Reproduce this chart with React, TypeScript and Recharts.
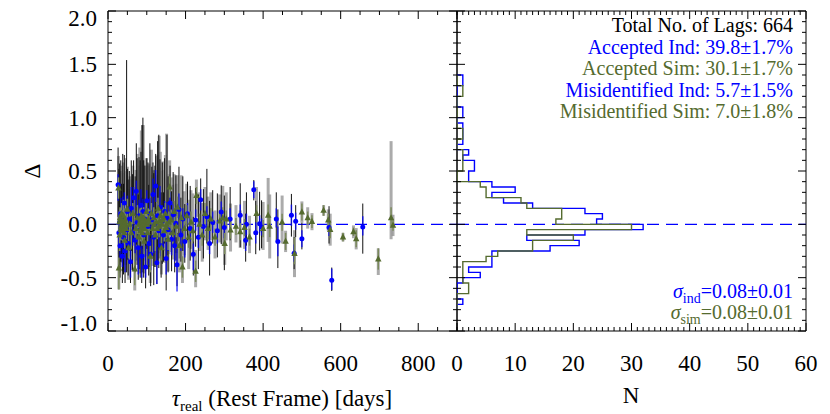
import React from 'react'
import { ScatterChart, Scatter, XAxis, YAxis, ErrorBar, ReferenceLine } from 'recharts'

const BLUE = '#0000ff'
const OLIVE = '#556b2f'
const FONT = '"Liberation Serif", "Times New Roman", serif'

// plot box in page pixels
const TOP = 11
const BOTTOM = 331
const LEFT = 108
const MID = 457
const RIGHT = 806

const tauLabels = [0, 200, 400, 600, 800]
const nLabels = [0, 10, 20, 30, 40, 50, 60]
const deltaLabels = [-1.0, -0.5, 0.0, 0.5, 1.0, 1.5, 2.0]
const tauMinor = Array.from({ length: 19 }, (_, i) => i * 50)
const nMinor = Array.from({ length: 61 }, (_, i) => i)
const deltaMinor = Array.from({ length: 31 }, (_, i) => Math.round((-1 + i * 0.1) * 10) / 10)

// [tau, delta, colour err low, colour err high, wide err low, wide err high]
const indPoints = [
  [26, 0.37, 0.15, 0.1, 0.3, 0.35], [28, -0.08, 0.15, 0.2, 0.35, 0.6], [30, 0.02, 0.1, 0.12, 0.4, 0.55],
  [31, -0.2, 0.12, 0.25, 0.3, 0.45], [33, 0.1, 0.2, 0.15, 0.45, 0.5], [35, -0.02, 0.08, 0.1, 0.3, 0.4],
  [37, -0.3, 0.1, 0.2, 0.25, 0.45], [38, 0.06, 0.25, 0.2, 0.5, 0.6], [40, -0.12, 0.1, 0.15, 0.35, 0.5],
  [42, 0.2, 0.15, 0.1, 0.4, 0.45], [44, -0.25, 0.2, 0.1, 0.3, 0.4], [48, -0.05, 0.1, 0.15, 0.4, 1.59],
  [50, 0.12, 0.2, 0.15, 0.45, 0.4], [52, -0.18, 0.15, 0.2, 0.3, 0.6], [55, 0.05, 0.1, 0.1, 0.3, 0.45],
  [58, -0.35, 0.15, 0.25, 0.2, 0.5], [60, 0.15, 0.2, 0.2, 0.4, 0.45], [63, -0.08, 0.12, 0.12, 0.35, 0.55],
  [66, 0.25, 0.15, 0.1, 0.4, 0.35], [70, -0.15, 0.2, 0.15, 0.3, 0.6], [73, 0.31, 0.15, 0.1, 0.5, 0.45],
  [75, 0.02, 0.1, 0.1, 0.4, 0.6], [78, -0.22, 0.25, 0.2, 0.3, 0.5], [80, 0.08, 0.15, 0.15, 0.5, 0.55],
  [83, -0.05, 0.1, 0.1, 0.45, 0.65], [85, 0.18, 0.1, 0.15, 0.4, 0.5], [87, -0.3, 0.2, 0.15, 0.25, 0.55],
  [88, 0.0, 0.15, 0.2, 0.45, 0.93], [90, 0.12, 0.1, 0.12, 0.35, 0.88], [92, -0.1, 0.2, 0.25, 0.4, 0.7],
  [95, 0.05, 0.15, 0.15, 0.3, 0.5], [97, -0.4, 0.1, 0.2, 0.2, 0.45], [100, 0.22, 0.15, 0.1, 0.45, 0.4],
  [103, -0.02, 0.1, 0.1, 0.4, 0.6], [105, -0.18, 0.2, 0.2, 0.3, 0.55], [108, 0.1, 0.15, 0.15, 0.5, 0.66],
  [110, -0.28, 0.15, 0.15, 0.3, 0.4], [113, 0.04, 0.1, 0.1, 0.35, 0.5], [116, 0.28, 0.2, 0.15, 0.4, 0.3],
  [118, -0.12, 0.15, 0.2, 0.45, 0.6], [121, 0.0, 0.12, 0.1, 0.4, 0.55], [123, 0.36, 0.15, 0.15, 0.4, 0.3],
  [126, -0.36, 0.2, 0.15, 0.2, 0.5], [128, 0.08, 0.1, 0.12, 0.45, 0.7], [131, -0.06, 0.15, 0.1, 0.35, 0.9],
  [134, 0.16, 0.2, 0.2, 0.4, 0.45], [137, -0.2, 0.1, 0.15, 0.3, 0.5], [140, 0.03, 0.15, 0.15, 0.4, 0.55],
  [143, -0.1, 0.12, 0.12, 0.25, 0.4], [146, 0.12, 0.1, 0.1, 0.3, 0.5], [150, -0.32, 0.15, 0.2, 0.3, 0.4],
  [152, 0.06, 0.12, 0.15, 0.35, 0.78], [155, -0.05, 0.2, 0.15, 0.4, 0.5], [160, 0.2, 0.1, 0.1, 0.3, 0.35],
  [164, -0.14, 0.15, 0.2, 0.3, 0.45], [168, 0.09, 0.1, 0.1, 0.3, 0.4], [172, -0.2, 0.15, 0.1, 0.25, 0.35],
  [175, 0.01, 0.1, 0.15, 0.35, 0.45], [178, -0.38, 0.25, 0.15, 0.2, 0.3], [183, 0.14, 0.1, 0.15, 0.3, 0.4],
  [188, -0.1, 0.15, 0.1, 0.25, 0.35], [193, 0.05, 0.1, 0.1, 0.3, 0.4], [198, -0.16, 0.15, 0.15, 0.2, 0.35],
  [205, 0.1, 0.1, 0.1, 0.25, 0.3], [212, -0.04, 0.12, 0.12, 0.3, 0.4], [220, -0.28, 0.15, 0.1, 0.2, 0.35],
  [226, 0.04, 0.1, 0.1, 0.25, 0.3], [233, -0.12, 0.1, 0.15, 0.3, 0.4], [239, 0.23, 0.1, 0.1, 0.25, 0.2],
  [246, -0.02, 0.1, 0.1, 0.3, 0.35], [255, 0.07, 0.12, 0.1, 0.25, 0.45], [262, -0.18, 0.1, 0.12, 0.3, 0.4],
  [270, 0.02, 0.1, 0.1, 0.2, 0.3], [282, -0.06, 0.12, 0.1, 0.25, 0.35], [292, 0.115, 0.1, 0.1, 0.3, 0.25],
  [300, -0.03, 0.1, 0.1, 0.4, 0.3], [315, 0.05, 0.08, 0.1, 0.2, 0.3], [341, 0.085, 0.1, 0.1, 0.3, 0.3],
  [355, -0.15, 0.1, 0.1, 0.2, 0.25], [357, 0.0, 0.1, 0.1, 0.2, 0.3], [376, 0.325, 0.08, 0.08, 0.1, 0.09],
  [381, -0.08, 0.1, 0.1, 0.2, 0.3], [391, 0.005, 0.08, 0.08, 0.25, 0.3], [396, -0.025, 0.08, 0.08, 0.2, 0.25],
  [434, 0.05, 0.08, 0.1, 0.2, 0.25], [438, -0.16, 0.14, 0.14, 0.25, 0.3], [473, 0.085, 0.1, 0.1, 0.2, 0.2],
  [480, -0.27, 0.08, 0.08, 0.15, 0.15], [484, 0.03, 0.08, 0.08, 0.15, 0.15], [500, -0.135, 0.08, 0.08, 0.1, 0.15],
  [570, -0.03, 0.08, 0.08, 0.15, 0.2], [577, -0.525, 0.09, 0.11, 0.1, 0.12], [657, -0.025, 0.08, 0.1, 0.25, 0.22],
]

const simPoints = [
  [27, 0.34, 0.1, 0.1, 0.3, 0.3], [28, -0.41, 0.2, 0.1, 0.2, 0.3], [29, 0.02, 0.1, 0.1, 0.3, 0.45],
  [30, -0.1, 0.15, 0.15, 0.35, 0.5], [31, 0.06, 0.1, 0.1, 0.3, 0.4], [32, 0.05, 0.12, 0.1, 0.4, 0.45],
  [33, -0.05, 0.1, 0.1, 0.3, 0.5], [34, -0.02, 0.1, 0.1, 0.3, 0.5], [35, 0.1, 0.1, 0.1, 0.35, 0.4],
  [36, 0.0, 0.15, 0.12, 0.35, 0.55], [37, 0.03, 0.1, 0.1, 0.3, 0.45], [38, -0.06, 0.1, 0.1, 0.3, 0.4],
  [39, -0.02, 0.12, 0.1, 0.3, 0.5], [40, 0.08, 0.15, 0.15, 0.4, 0.5], [41, 0.0, 0.1, 0.1, 0.35, 0.45],
  [42, -0.08, 0.1, 0.1, 0.3, 0.5], [43, -0.15, 0.1, 0.12, 0.3, 0.4], [44, 0.05, 0.1, 0.1, 0.3, 0.45],
  [45, 0.02, 0.1, 0.1, 0.4, 0.6], [46, -0.01, 0.1, 0.1, 0.3, 0.5], [47, -0.04, 0.1, 0.1, 0.3, 0.5],
  [50, 0.14, 0.15, 0.1, 0.35, 0.4], [53, -0.22, 0.1, 0.15, 0.3, 0.55], [56, 0.0, 0.1, 0.12, 0.3, 0.45],
  [60, -0.08, 0.15, 0.1, 0.35, 0.5], [64, 0.1, 0.1, 0.1, 0.3, 0.45], [69, -0.42, 0.15, 0.15, 0.2, 0.3],
  [72, -0.04, 0.1, 0.1, 0.3, 0.55], [76, 0.06, 0.15, 0.12, 0.35, 0.6], [79, -0.12, 0.1, 0.1, 0.3, 0.45],
  [81, 0.0, 0.1, 0.1, 0.35, 0.55], [82, 0.02, 0.12, 0.12, 0.35, 0.7], [83, 0.05, 0.1, 0.1, 0.3, 0.5],
  [84, -0.06, 0.1, 0.1, 0.4, 0.6], [85, -0.03, 0.1, 0.1, 0.3, 0.5], [86, 0.08, 0.1, 0.1, 0.3, 0.8],
  [87, 0.02, 0.1, 0.1, 0.35, 0.55], [88, -0.08, 0.12, 0.1, 0.3, 0.5], [89, -0.02, 0.15, 0.15, 0.4, 0.95],
  [90, 0.0, 0.1, 0.1, 0.3, 0.6], [91, 0.04, 0.1, 0.1, 0.35, 0.89], [92, 0.06, 0.1, 0.1, 0.3, 0.5],
  [93, -0.16, 0.12, 0.12, 0.3, 0.6], [94, -0.04, 0.1, 0.1, 0.3, 0.5], [96, 0.0, 0.1, 0.1, 0.3, 0.55],
  [97, 0.03, 0.1, 0.1, 0.3, 0.5], [99, 0.12, 0.15, 0.1, 0.35, 0.5], [101, 0.0, 0.1, 0.1, 0.3, 0.55],
  [102, -0.08, 0.1, 0.1, 0.3, 0.6], [104, 0.05, 0.1, 0.1, 0.3, 0.5], [106, 0.02, 0.12, 0.12, 0.4, 0.55],
  [109, -0.3, 0.15, 0.1, 0.25, 0.4], [112, 0.1, 0.1, 0.1, 0.3, 0.6], [115, -0.04, 0.1, 0.12, 0.35, 0.5],
  [118, 0.06, 0.1, 0.1, 0.3, 0.45], [119, 0.0, 0.1, 0.1, 0.3, 0.5], [122, -0.1, 0.15, 0.15, 0.3, 0.55],
  [125, 0.02, 0.1, 0.1, 0.4, 0.62], [127, -0.04, 0.1, 0.1, 0.3, 0.5], [129, 0.15, 0.12, 0.1, 0.35, 0.5],
  [132, -0.02, 0.1, 0.1, 0.3, 0.85], [133, 0.03, 0.1, 0.1, 0.3, 0.5], [135, 0.08, 0.1, 0.1, 0.3, 0.6],
  [138, -0.22, 0.12, 0.12, 0.25, 0.45], [139, 0.0, 0.1, 0.1, 0.3, 0.5], [141, 0.04, 0.1, 0.1, 0.3, 0.55],
  [143, 0.06, 0.1, 0.1, 0.3, 0.45], [145, -0.06, 0.1, 0.1, 0.3, 0.5], [148, 0.1, 0.12, 0.1, 0.35, 0.55],
  [150, -0.03, 0.1, 0.1, 0.3, 0.45], [151, 0.0, 0.1, 0.1, 0.3, 0.85], [155, -0.14, 0.1, 0.12, 0.3, 0.45],
  [157, 0.02, 0.1, 0.1, 0.3, 0.45], [159, 0.35, 0.1, 0.1, 0.3, 0.25], [163, 0.04, 0.1, 0.1, 0.3, 0.4],
  [167, -0.08, 0.1, 0.1, 0.25, 0.45], [171, 0.12, 0.1, 0.1, 0.3, 0.35], [176, -0.02, 0.1, 0.1, 0.25, 0.4],
  [179, 0.16, 0.1, 0.1, 0.25, 0.3], [184, -0.2, 0.12, 0.1, 0.25, 0.35], [189, 0.06, 0.1, 0.1, 0.3, 0.4],
  [192, -0.4, 0.1, 0.1, 0.15, 0.25], [197, -0.04, 0.1, 0.1, 0.25, 0.35], [203, 0.08, 0.1, 0.1, 0.25, 0.3],
  [208, -0.12, 0.1, 0.1, 0.3, 0.35], [214, 0.02, 0.1, 0.1, 0.25, 0.3], [219, -0.06, 0.1, 0.1, 0.25, 0.35],
  [226, -0.44, 0.1, 0.1, 0.15, 0.2], [228, 0.27, 0.08, 0.08, 0.2, 0.15], [236, 0.0, 0.1, 0.1, 0.25, 0.3],
  [243, -0.1, 0.1, 0.1, 0.25, 0.3], [250, 0.1, 0.1, 0.1, 0.25, 0.25], [258, -0.04, 0.1, 0.1, 0.2, 0.3],
  [265, 0.05, 0.1, 0.1, 0.2, 0.25], [276, -0.12, 0.08, 0.08, 0.2, 0.25], [288, 0.03, 0.1, 0.1, 0.2, 0.25],
  [296, 0.06, 0.1, 0.1, 0.25, 0.3], [301, -0.18, 0.1, 0.1, 0.2, 0.2], [305, 0.05, 0.08, 0.08, 0.2, 0.25],
  [316, -0.055, 0.08, 0.08, 0.2, 0.25], [330, -0.02, 0.08, 0.08, 0.15, 0.2], [341, -0.07, 0.08, 0.08, 0.15, 0.2],
  [352, -0.03, 0.08, 0.08, 0.2, 0.25], [365, -0.12, 0.08, 0.08, 0.15, 0.2], [383, 0.1, 0.08, 0.08, 0.2, 0.25],
  [400, -0.04, 0.08, 0.08, 0.2, 0.25], [413, 0.085, 0.1, 0.1, 0.25, 0.35], [417, -0.02, 0.1, 0.1, 0.3, 0.3],
  [449, 0.02, 0.08, 0.08, 0.2, 0.25], [458, -0.16, 0.08, 0.08, 0.1, 0.1], [481, -0.275, 0.1, 0.15, 0.22, 0.22],
  [500, 0.115, 0.08, 0.08, 0.1, 0.1], [515, 0.06, 0.06, 0.06, 0.1, 0.1], [526, 0.025, 0.06, 0.06, 0.08, 0.08],
  [556, 0.13, 0.05, 0.05, 0.05, 0.05], [568, 0.04, 0.06, 0.06, 0.1, 0.1], [573, -0.05, 0.08, 0.08, 0.15, 0.15],
  [606, -0.12, 0.04, 0.04, 0.04, 0.04], [633, -0.07, 0.04, 0.04, 0.06, 0.06], [640, -0.135, 0.08, 0.08, 0.1, 0.1],
  [697, -0.325, 0.1, 0.1, 0.15, 0.1], [730, 0.06, 0.08, 0.1, 0.2, 0.72], [735, -0.01, 0.05, 0.05, 0.1, 0.1],
]

// histogram bins (lower edges, width 0.05) and counts
const binLo = [
  -0.8, -0.75, -0.7, -0.65, -0.6, -0.55, -0.5, -0.45, -0.4, -0.35, -0.3, -0.25, -0.2, -0.15, -0.1, -0.05,
  0.0, 0.05, 0.1, 0.15, 0.2, 0.25, 0.3, 0.35, 0.4, 0.45, 0.5, 0.55, 0.6, 0.65, 0.7, 0.75, 0.8, 0.85, 0.9,
  0.95, 1.0, 1.05, 1.1, 1.15, 1.2, 1.25, 1.3, 1.35,
]
const BIN = 0.05
const indCounts = [
  0, 1, 0, 0, 0, 1, 4, 2, 6, 6, 6, 16, 21, 12, 22, 32,
  24, 25, 22, 13, 8, 6, 10, 6, 2, 2, 3, 3, 1, 2, 0, 1, 1, 1, 1,
  0, 1, 1, 0, 0, 0, 0, 1, 1,
]
const simCounts = [
  0, 0, 0, 2, 2, 1, 1, 1, 1, 5, 7, 13, 13, 20, 12, 30,
  17, 18, 18, 12, 11, 5, 5, 4, 0, 0, 1, 1, 1, 1, 0, 0, 1, 1, 0,
  0, 0, 0, 0, 0, 1, 1, 0, 0,
]

const toPoints = (rows: number[][]) =>
  rows.map(([x, y, cl, ch, kl, kh]) => ({ x, y, c: [cl, ch], k: [kl, kh] }))

const outline = (counts: number[]) => {
  const pts = [{ n: 0, v: binLo[0] }]
  counts.forEach((c, i) => {
    pts.push({ n: c, v: binLo[i] }, { n: c, v: binLo[i] + BIN })
  })
  pts.push({ n: 0, v: binLo[binLo.length - 1] + BIN })
  return pts
}

const indData = toPoints(indPoints)
const simData = toPoints(simPoints)
const indHist = outline(indCounts)
const simHist = outline(simCounts)

const isHalf = (v: number) => Math.abs(v * 2 - Math.round(v * 2)) < 1e-6

function TauTick({ x, payload }: any) {
  const v = payload.value
  const major = tauLabels.includes(v)
  const len = major ? 8 : 4
  return (
    <g>
      <line x1={x} x2={x} y1={BOTTOM} y2={BOTTOM - len} stroke="#000" />
      <line x1={x} x2={x} y1={TOP} y2={TOP + len} stroke="#000" />
      {major && (
        <text x={x} y={BOTTOM + 40} textAnchor="middle" fontSize={23} fontFamily={FONT} fill="#000">
          {v}
        </text>
      )}
    </g>
  )
}

function NTick({ x, payload }: any) {
  const v = payload.value
  const major = nLabels.includes(v)
  const len = major ? 8 : 4
  return (
    <g>
      <line x1={x} x2={x} y1={BOTTOM} y2={BOTTOM - len} stroke="#000" />
      <line x1={x} x2={x} y1={TOP} y2={TOP + len} stroke="#000" />
      {major && (
        <text x={x} y={BOTTOM + 40} textAnchor="middle" fontSize={23} fontFamily={FONT} fill="#000">
          {v}
        </text>
      )}
    </g>
  )
}

function DeltaTick({ y, payload }: any) {
  const v = payload.value
  const major = isHalf(v)
  const len = major ? 8 : 4
  const shift = v >= 2 ? 7 : v <= -1 ? -8 : 0
  return (
    <g>
      <line x1={LEFT} x2={LEFT + len} y1={y} y2={y} stroke="#000" />
      <line x1={MID} x2={MID - len} y1={y} y2={y} stroke="#000" />
      {major && deltaLabels.some((d) => Math.abs(d - v) < 1e-6) && (
        <text x={LEFT - 11} y={y + shift + 8} textAnchor="end" fontSize={23} fontFamily={FONT} fill="#000">
          {v.toFixed(1)}
        </text>
      )}
    </g>
  )
}

function HistYTick({ y, payload }: any) {
  const major = isHalf(payload.value)
  const len = major ? 8 : 4
  return (
    <g>
      <line x1={MID} x2={MID + len} y1={y} y2={y} stroke="#000" />
      <line x1={RIGHT} x2={RIGHT - len} y1={y} y2={y} stroke="#000" />
    </g>
  )
}

const Dot = (p: any) => <circle cx={p.cx} cy={p.cy} r={2.5} fill={BLUE} />
const Tri = (p: any) => (
  <polygon
    points={`${p.cx},${p.cy - 3.8} ${p.cx - 3.2},${p.cy + 2.4} ${p.cx + 3.2},${p.cy + 2.4}`}
    fill={OLIVE}
  />
)
const None = () => <g />

const abs: React.CSSProperties = { position: 'absolute', left: 0, top: 0 }

export default function App() {
  return (
    <div style={{ ...abs, width: 830, height: 414, background: '#fff' }}>
      <div style={abs}>
        <ScatterChart width={830} height={414} margin={{ top: TOP, right: 830 - MID, bottom: 53, left: LEFT - 60 }}>
          <XAxis
            type="number"
            dataKey="x"
            domain={[0, 900]}
            allowDataOverflow
            ticks={tauMinor}
            interval={0}
            tick={<TauTick />}
            tickLine={false}
            tickSize={0}
            height={30}
            axisLine={{ stroke: '#000' }}
          />
          <YAxis
            type="number"
            dataKey="y"
            domain={[-1, 2]}
            allowDataOverflow
            ticks={deltaMinor}
            interval={0}
            tick={<DeltaTick />}
            tickLine={false}
            tickSize={0}
            width={60}
            axisLine={{ stroke: '#000' }}
          />
          <ReferenceLine y={0} stroke={BLUE} strokeWidth={1.3} strokeDasharray="12 7" />
          <ReferenceLine y={2} stroke="#000" />
          <ReferenceLine x={900} stroke="#000" />
          <Scatter data={simData} shape={None} isAnimationActive={false}>
            <ErrorBar dataKey="k" direction="y" width={0} stroke="#8f8f8f" strokeWidth={3} strokeOpacity={0.75} />
          </Scatter>
          <Scatter data={indData} shape={None} isAnimationActive={false}>
            <ErrorBar dataKey="k" direction="y" width={0} stroke="#111" strokeWidth={1} />
          </Scatter>
          <Scatter data={indData} shape={Dot} isAnimationActive={false}>
            <ErrorBar dataKey="c" direction="y" width={0} stroke={BLUE} strokeWidth={1.5} strokeOpacity={0.75} />
          </Scatter>
          <Scatter data={simData} shape={Tri} isAnimationActive={false}>
            <ErrorBar dataKey="c" direction="y" width={0} stroke="#7b8a5c" strokeWidth={1.5} />
          </Scatter>
        </ScatterChart>
      </div>
      <div style={abs}>
        <ScatterChart width={830} height={414} margin={{ top: TOP, right: 830 - RIGHT, bottom: 53, left: MID - 60 }}>
          <XAxis
            type="number"
            dataKey="n"
            domain={[0, 60]}
            allowDataOverflow
            ticks={nMinor}
            interval={0}
            tick={<NTick />}
            tickLine={false}
            tickSize={0}
            height={30}
            axisLine={{ stroke: '#000' }}
          />
          <YAxis
            type="number"
            dataKey="v"
            domain={[-1, 2]}
            allowDataOverflow
            ticks={deltaMinor}
            interval={0}
            tick={<HistYTick />}
            tickLine={false}
            tickSize={0}
            width={60}
            axisLine={{ stroke: '#000' }}
          />
          <ReferenceLine y={2} stroke="#000" />
          <ReferenceLine x={60} stroke="#000" />
          <Scatter data={indHist} shape={None} fill={BLUE} line={{ stroke: BLUE, strokeWidth: 1.4 }} isAnimationActive={false} />
          <Scatter data={simHist} shape={None} fill={OLIVE} line={{ stroke: OLIVE, strokeWidth: 1.4 }} isAnimationActive={false} />
          <ReferenceLine y={0} stroke={BLUE} strokeWidth={1.3} strokeDasharray="12 7" />
        </ScatterChart>
      </div>
      <svg width={830} height={414} style={{ ...abs, pointerEvents: 'none' }} fontFamily={FONT}>
        <text x={40} y={171} fontSize={23} textAnchor="middle" transform="rotate(-90 40 171)">Δ</text>
        <text x={282} y={406} fontSize={23} textAnchor="middle">
          <tspan fontStyle="italic">τ</tspan>
          <tspan fontSize={15} dy={5}>real</tspan>
          <tspan dy={-5}> (Rest Frame) [days]</tspan>
        </text>
        <text x={631} y={403} fontSize={23} textAnchor="middle">N</text>
        <g fontSize={20} textAnchor="end">
          <text x={793} y={32} fill="#000">Total No. of Lags: 664</text>
          <text x={793} y={53.5} fill={BLUE}>Accepted Ind: 39.8±1.7%</text>
          <text x={793} y={75} fill={OLIVE}>Accepted Sim: 30.1±1.7%</text>
          <text x={793} y={96.5} fill={BLUE}>Misidentified Ind: 5.7±1.5%</text>
          <text x={793} y={118} fill={OLIVE}>Misidentified Sim: 7.0±1.8%</text>
          <text x={793} y={298} fill={BLUE}>
            <tspan fontStyle="italic">σ</tspan>
            <tspan fontSize={14} dy={5}>ind</tspan>
            <tspan dy={-5}>=0.08±0.01</tspan>
          </text>
          <text x={793} y={319} fill={OLIVE}>
            <tspan fontStyle="italic">σ</tspan>
            <tspan fontSize={14} dy={5}>sim</tspan>
            <tspan dy={-5}>=0.08±0.01</tspan>
          </text>
        </g>
      </svg>
    </div>
  )
}
